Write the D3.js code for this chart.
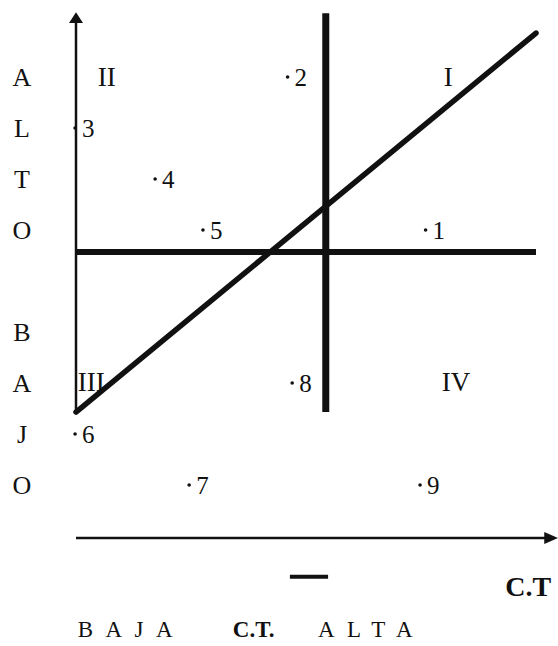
<!DOCTYPE html>
<html>
<head>
<meta charset="utf-8">
<script src="https://cdn.jsdelivr.net/npm/d3@7"></script>
<style>
  body { margin: 0; background: #fff; }
  text { font-family: "Liberation Serif", "Times New Roman", serif; fill: #111; }
</style>
</head>
<body>
<script>
var width = 558, height = 646;

// row letters on the left (ALTO / BAJO)
var rowLetters = ["A", "L", "T", "O", "B", "A", "J", "O"];
var rowValues = [9, 8, 7, 6, 4, 3, 2, 1];

// numbered points
var pointLabels = ["1", "2", "3", "4", "5", "6", "7", "8", "9"];
var pointX = [7.6, 4.6, -0.02, 1.72, 2.76, -0.02, 2.46, 4.7, 7.48];
var pointY = [6, 9, 8, 7, 6, 2, 1, 3, 1];

// quadrant labels
var quadLabels = ["I", "II", "III", "IV"];
var quadX = [8.09, 0.67, 0.33, 8.26];
var quadY = [9.04, 9.04, 3.06, 3.06];

// dividing lines
var splitX = 5.43;
var splitY = 5.61;
var splitBottom = 2.47, splitTop = 10.29;

// diagonal line
var diagX = [0, 10];
var diagY = [2.47, 9.9];

// bottom labels
var bottomWords = ["BAJA", "C.T.", "ALTA"];
var bottomWordX = [0.04, 3.41, 5.26];

var x = d3.scaleLinear().domain([0, 10]).range([76, 536]);
var y = d3.scaleLinear().domain([0, 10]).range([538, 28]);

var svg = d3.select("body")
    .append("svg")
    .attr("width", width)
    .attr("height", height);

svg.append("rect")
    .attr("width", width)
    .attr("height", height)
    .attr("fill", "#fff");

// vertical axis with arrow
svg.append("line")
    .attr("x1", x(0)).attr("x2", x(0))
    .attr("y1", y(2.47)).attr("y2", y(10.1))
    .attr("stroke", "#111")
    .attr("stroke-width", 2.5);

svg.append("path")
    .attr("d", d3.line()([[x(0) - 7, y(10.1)], [x(0), y(10.31)], [x(0) + 7, y(10.1)]]) + "Z")
    .attr("fill", "#111");

// horizontal axis with arrow
svg.append("line")
    .attr("x1", x(0)).attr("x2", x(10.2))
    .attr("y1", y(0)).attr("y2", y(0))
    .attr("stroke", "#111")
    .attr("stroke-width", 2.5);

svg.append("path")
    .attr("d", d3.line()([[x(10.18), y(0) - 6], [x(10.48), y(0)], [x(10.18), y(0) + 6]]) + "Z")
    .attr("fill", "#111");

// thick dividing lines
svg.append("line")
    .attr("x1", x(0)).attr("x2", x(10))
    .attr("y1", y(splitY)).attr("y2", y(splitY))
    .attr("stroke", "#111")
    .attr("stroke-width", 6);

svg.append("line")
    .attr("x1", x(splitX)).attr("x2", x(splitX))
    .attr("y1", y(splitBottom)).attr("y2", y(splitTop))
    .attr("stroke", "#111")
    .attr("stroke-width", 7);

// diagonal
svg.append("line")
    .attr("x1", x(diagX[0])).attr("x2", x(diagX[1]))
    .attr("y1", y(diagY[0])).attr("y2", y(diagY[1]))
    .attr("stroke", "#111")
    .attr("stroke-width", 5.5)
    .attr("stroke-linecap", "round");

// left letters
svg.append("g")
    .selectAll("text")
    .data(rowLetters)
    .enter()
    .append("text")
    .attr("x", 22)
    .attr("y", function (d, i) { return y(rowValues[i]) - 2; })
    .attr("text-anchor", "middle")
    .attr("dominant-baseline", "central")
    .attr("font-size", 26)
    .text(function (d) { return d; });

// quadrant numerals
svg.append("g")
    .selectAll("text")
    .data(quadLabels)
    .enter()
    .append("text")
    .attr("x", function (d, i) { return x(quadX[i]); })
    .attr("y", function (d, i) { return y(quadY[i]); })
    .attr("text-anchor", "middle")
    .attr("dominant-baseline", "central")
    .attr("font-size", 27)
    .text(function (d) { return d; });

// points: small dot + number
var pts = svg.append("g")
    .selectAll("g")
    .data(pointLabels)
    .enter()
    .append("g");

pts.append("circle")
    .attr("cx", function (d, i) { return x(pointX[i]); })
    .attr("cy", function (d, i) { return y(pointY[i]) - 2; })
    .attr("r", 1.8)
    .attr("fill", "#111");

pts.append("text")
    .attr("x", function (d, i) { return x(pointX[i]) + 7; })
    .attr("y", function (d, i) { return y(pointY[i]) - 2; })
    .attr("dominant-baseline", "central")
    .attr("font-size", 25)
    .text(function (d) { return d; });

// small dash under the axis
svg.append("line")
    .attr("x1", x(4.65)).attr("x2", x(5.48))
    .attr("y1", y(-0.76)).attr("y2", y(-0.76))
    .attr("stroke", "#111")
    .attr("stroke-width", 4);

// axis title on the right
svg.append("text")
    .attr("x", x(9.33))
    .attr("y", y(-0.96))
    .attr("dominant-baseline", "central")
    .attr("font-size", 28)
    .attr("font-weight", "bold")
    .text("C.T");

// bottom caption
svg.append("g")
    .selectAll("text")
    .data(bottomWords)
    .enter()
    .append("text")
    .attr("x", function (d, i) { return x(bottomWordX[i]); })
    .attr("y", y(-1.8))
    .attr("dominant-baseline", "central")
    .attr("font-size", 23)
    .attr("font-weight", function (d) { return d === "C.T." ? "bold" : "normal"; })
    .attr("letter-spacing", function (d) { return d === "C.T." ? 0 : 12.4; })
    .text(function (d) { return d; });
</script>
</body>
</html>
